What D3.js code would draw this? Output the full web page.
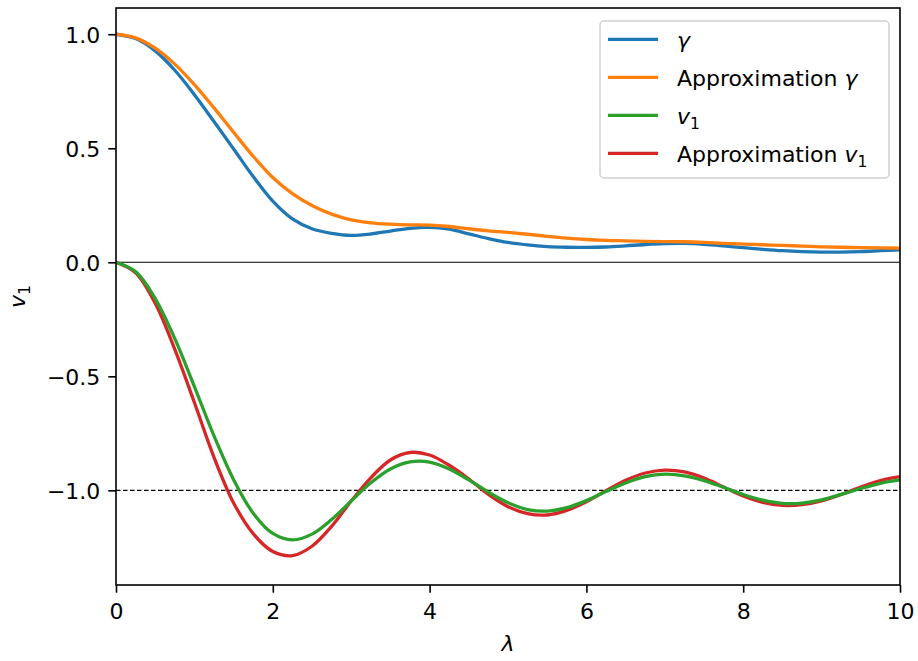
<!DOCTYPE html>
<html>
<head>
<meta charset="utf-8">
<title>v1 and gamma against lambda</title>
<style>
  body { margin: 0; background: #fff; }
  svg { display: block; font-family: "DejaVu Sans", sans-serif; }
  .tick text { font-size: 22px; fill: #000; font-family: "DejaVu Sans", sans-serif; }
  .tick line { stroke: #000; stroke-width: 1.6; }
</style>
</head>
<body>
<div id="chart"></div>
<script src="https://d3js.org/d3.v7.min.js"></script>
<script>
// values
const lambda = [0, 0.25, 0.5, 0.75, 1, 1.25, 1.5, 1.75, 2, 2.25, 2.5, 2.75, 3, 3.25, 3.5, 3.75,
  4, 4.25, 4.5, 4.75, 5, 5.25, 5.5, 5.75, 6, 6.25, 6.5, 6.75, 7, 7.25, 7.5, 7.75,
  8, 8.25, 8.5, 8.75, 9, 9.25, 9.5, 9.75, 10];

const gamma = [1.000, 0.981, 0.927, 0.842, 0.735, 0.617, 0.497, 0.376, 0.268, 0.190, 0.147, 0.127,
  0.118, 0.124, 0.137, 0.149, 0.153, 0.145, 0.125, 0.104, 0.087, 0.076, 0.069, 0.066,
  0.065, 0.067, 0.072, 0.078, 0.082, 0.083, 0.079, 0.072, 0.064, 0.057, 0.051, 0.047,
  0.045, 0.045, 0.047, 0.051, 0.055];

const approxGamma = [1.000, 0.984, 0.939, 0.869, 0.779, 0.677, 0.570, 0.465, 0.372, 0.301, 0.249, 0.211,
  0.186, 0.173, 0.167, 0.164, 0.163, 0.157, 0.147, 0.138, 0.131, 0.123, 0.114, 0.106,
  0.100, 0.096, 0.094, 0.092, 0.091, 0.090, 0.087, 0.083, 0.080, 0.077, 0.074, 0.071,
  0.068, 0.066, 0.064, 0.063, 0.062];

const v1 = [0.000, -0.041, -0.159, -0.335, -0.545, -0.761, -0.953, -1.100, -1.189, -1.217, -1.192, -1.128,
  -1.047, -0.967, -0.906, -0.875, -0.876, -0.906, -0.954, -1.008, -1.054, -1.084, -1.091, -1.076,
  -1.045, -1.005, -0.968, -0.940, -0.929, -0.936, -0.957, -0.987, -1.018, -1.043, -1.057, -1.056,
  -1.042, -1.018, -0.992, -0.969, -0.954];

const approxV1 = [0.000, -0.046, -0.180, -0.382, -0.615, -0.855, -1.055, -1.190, -1.268, -1.286, -1.245, -1.158,
  -1.047, -0.945, -0.867, -0.834, -0.845, -0.890, -0.950, -1.018, -1.072, -1.102, -1.108, -1.088,
  -1.050, -1.002, -0.956, -0.924, -0.911, -0.919, -0.946, -0.985, -1.025, -1.053, -1.066, -1.063,
  -1.046, -1.018, -0.985, -0.957, -0.940];

const xTicks = [0, 2, 4, 6, 8, 10];
const yTicks = [-1, -0.5, 0, 0.5, 1];

// legend label pieces: [plain text, italic symbol, subscript]
const legendLabels = [
  ['', 'γ', ''],
  ['Approximation ', 'γ', ''],
  ['', 'v', '1'],
  ['Approximation ', 'v', '1']
];
const colors = ['#1f77b4', '#ff7f0e', '#2ca02c', '#d62728'];

const width = 918, height = 661;
const plotLeft = 116, plotRight = 900, plotTop = 8, plotBottom = 585;

const x = d3.scaleLinear().domain([0, 10]).range([plotLeft, plotRight]);
const y = d3.scaleLinear().domain([-1.415, 1.115]).range([plotBottom, plotTop]);

const svg = d3.select('#chart').append('svg')
  .attr('width', width)
  .attr('height', height);

svg.append('rect').attr('width', width).attr('height', height).attr('fill', '#fff');

svg.append('clipPath').attr('id', 'clip')
  .append('rect')
  .attr('x', plotLeft).attr('y', plotTop)
  .attr('width', plotRight - plotLeft).attr('height', plotBottom - plotTop);

const plot = svg.append('g').attr('clip-path', 'url(#clip)');

// reference lines at 0 and -1
plot.append('line')
  .attr('x1', plotLeft).attr('x2', plotRight)
  .attr('y1', y(0)).attr('y2', y(0))
  .attr('stroke', '#000').attr('stroke-width', 1.1);

plot.append('line')
  .attr('x1', plotLeft).attr('x2', plotRight)
  .attr('y1', y(-1)).attr('y2', y(-1))
  .attr('stroke', '#000').attr('stroke-width', 1.1)
  .attr('stroke-dasharray', '4.5,2.5');

const line = d3.line()
  .x((d, i) => x(lambda[i]))
  .y(d => y(d))
  .curve(d3.curveCatmullRom.alpha(0.5));

const series = [gamma, approxGamma, v1, approxV1];
const drawOrder = [0, 1, 3, 2];

drawOrder.forEach(k => {
  plot.append('path')
    .datum(series[k])
    .attr('d', line)
    .attr('fill', 'none')
    .attr('stroke', colors[k])
    .attr('stroke-width', 3.3)
    .attr('stroke-linejoin', 'round')
    .attr('stroke-linecap', 'butt');
});

// axes
const xAxis = svg.append('g')
  .attr('transform', `translate(0,${plotBottom})`)
  .call(d3.axisBottom(x).tickValues(xTicks).tickSize(7.7).tickSizeOuter(0).tickPadding(11)
    .tickFormat(d3.format('d')));
xAxis.select('.domain').remove();

const yAxis = svg.append('g')
  .attr('transform', `translate(${plotLeft},0)`)
  .call(d3.axisLeft(y).tickValues(yTicks).tickSize(7.7).tickSizeOuter(0).tickPadding(8)
    .tickFormat(d3.format('.1f')));
yAxis.select('.domain').remove();
yAxis.selectAll('.tick text').attr('dy', '0.38em');

// frame
svg.append('rect')
  .attr('x', plotLeft).attr('y', plotTop)
  .attr('width', plotRight - plotLeft).attr('height', plotBottom - plotTop)
  .attr('fill', 'none')
  .attr('stroke', '#000')
  .attr('stroke-width', 1.6);

// axis labels
svg.append('text')
  .attr('x', (plotLeft + plotRight) / 2)
  .attr('y', 651)
  .attr('text-anchor', 'middle')
  .attr('font-size', 22)
  .attr('font-style', 'italic')
  .text('λ');

const yl = svg.append('text')
  .attr('transform', `translate(25,${(plotTop + plotBottom) / 2}) rotate(-90)`)
  .attr('text-anchor', 'middle')
  .attr('font-size', 22);
yl.append('tspan').attr('font-style', 'italic').text('v');
yl.append('tspan').attr('font-size', 15.5).attr('dy', 5).text('1');

// legend
const legend = svg.append('g');
legend.append('rect')
  .attr('x', 600).attr('y', 21)
  .attr('width', 289).attr('height', 157)
  .attr('rx', 4)
  .attr('fill', '#fff').attr('fill-opacity', 0.8)
  .attr('stroke', '#d0d0d0').attr('stroke-width', 1.5);

legendLabels.forEach((parts, i) => {
  const ly = 39.3 + i * 38;
  legend.append('line')
    .attr('x1', 608).attr('x2', 658)
    .attr('y1', ly).attr('y2', ly)
    .attr('stroke', colors[i])
    .attr('stroke-width', 3.3);
  const t = legend.append('text')
    .attr('x', 677).attr('y', ly + 8.3)
    .attr('font-size', 22);
  if (parts[0]) t.append('tspan').text(parts[0]);
  t.append('tspan').attr('font-style', 'italic').text(parts[1]);
  if (parts[2]) t.append('tspan').attr('font-size', 15.5).attr('dy', 5).text(parts[2]);
});
</script>
</body>
</html>
